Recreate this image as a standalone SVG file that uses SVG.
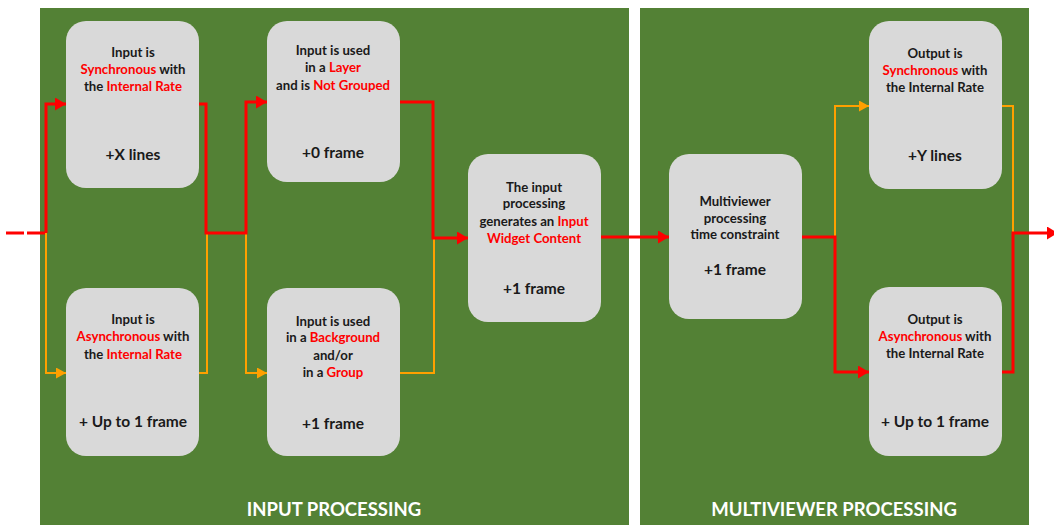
<svg xmlns="http://www.w3.org/2000/svg" width="1054" height="525" viewBox="0 0 1054 525">
<style>
.panel{fill:#538135}
.box{fill:#D9D9D9}
.t{font-family:Lato,"Open Sans",sans-serif;font-weight:bold;font-size:13.2px;fill:#1a1a1a;text-anchor:middle}
.big{font-size:15.5px}
.r{fill:#FF0000}
.title{font-family:Lato,"Open Sans",sans-serif;font-weight:bold;font-size:18.5px;fill:#FFFFFF;text-anchor:middle}
.red{stroke:#FF0000;stroke-width:3;fill:none}
.org{stroke:#FFA000;stroke-width:2;fill:none}
</style>
<defs>
<marker id="ar" markerUnits="userSpaceOnUse" markerWidth="12" markerHeight="13" refX="11" refY="6.5" orient="auto"><path d="M0,0 L11,6.5 L0,13 Z" fill="#FF0000"/></marker>
<marker id="ao" markerUnits="userSpaceOnUse" markerWidth="11" markerHeight="11" refX="10" refY="5.5" orient="auto"><path d="M0,0 L10,5.5 L0,11 Z" fill="#FFA000"/></marker>
</defs>
<rect width="1054" height="525" fill="#FFFFFF"/>
<g id="panel-input">
<rect class="panel" x="40" y="8" width="589" height="517"/>
<text class="title" x="334" y="516">INPUT PROCESSING</text>
</g>
<g id="panel-multiviewer">
<rect class="panel" x="640" y="8" width="389" height="517"/>
<text class="title" x="834" y="516">MULTIVIEWER PROCESSING</text>
</g>
<g id="connectors">
<path class="red" d="M6,233 H24 M27,233 H46"/>
<path class="org" d="M46,233 V373 H66" marker-end="url(#ao)"/>
<path class="red" d="M46,233 V104 H66" marker-end="url(#ar)"/>
<path class="org" d="M199,373 H207 V233"/>
<path class="org" d="M246,233 V373 H267" marker-end="url(#ao)"/>
<path class="red" d="M199,104 H206 V233 H246 V102 H267" marker-end="url(#ar)"/>
<path class="org" d="M400,373 H434 V238"/>
<path class="red" d="M400,102 H433 V238 H468" marker-end="url(#ar)"/>
<path class="red" d="M601,237 H669" marker-end="url(#ar)"/>
<path class="org" d="M835,237 V106 H869" marker-end="url(#ao)"/>
<path class="red" d="M802,237 H835 V372 H869" marker-end="url(#ar)"/>
<path class="org" d="M1002,106 H1013 V233"/>
<path class="red" d="M1002,372 H1013 V233 H1058" marker-end="url(#ar)"/>
</g>
<g id="node-input-sync">
<rect class="box" x="66" y="21" width="133" height="167" rx="20"/>
<text class="t" x="133" y="57">Input is</text>
<text class="t" x="133" y="74"><tspan class="r">Synchronous</tspan> with</text>
<text class="t" x="133" y="91">the <tspan class="r">Internal Rate</tspan></text>
<text class="t big" x="133" y="160">+X lines</text>
</g>
<g id="node-input-async">
<rect class="box" x="66" y="288" width="133" height="168" rx="20"/>
<text class="t" x="133" y="324">Input is</text>
<text class="t" x="133" y="341"><tspan class="r">Asynchronous</tspan> with</text>
<text class="t" x="133" y="359">the <tspan class="r">Internal Rate</tspan></text>
<text class="t big" x="133" y="427">+ Up to 1 frame</text>
</g>
<g id="node-layer">
<rect class="box" x="267" y="21" width="133" height="161" rx="20"/>
<text class="t" x="333" y="55">Input is used</text>
<text class="t" x="333" y="72">in a <tspan class="r">Layer</tspan></text>
<text class="t" x="333" y="90">and is <tspan class="r">Not Grouped</tspan></text>
<text class="t big" x="333" y="158">+0 frame</text>
</g>
<g id="node-background">
<rect class="box" x="267" y="288" width="133" height="168" rx="20"/>
<text class="t" x="333" y="326">Input is used</text>
<text class="t" x="333" y="342">in a <tspan class="r">Background</tspan></text>
<text class="t" x="333" y="360">and/or</text>
<text class="t" x="333" y="377">in a <tspan class="r">Group</tspan></text>
<text class="t big" x="333" y="429">+1 frame</text>
</g>
<g id="node-input-processing">
<rect class="box" x="468" y="154" width="133" height="168" rx="20"/>
<text class="t" x="534" y="192">The input</text>
<text class="t" x="534" y="208">processing</text>
<text class="t" x="534" y="226">generates an <tspan class="r">Input</tspan></text>
<text class="t" x="534" y="243"><tspan class="r">Widget Content</tspan></text>
<text class="t big" x="534" y="294">+1 frame</text>
</g>
<g id="node-multiviewer">
<rect class="box" x="669" y="154" width="133" height="165" rx="20"/>
<text class="t" x="735" y="206">Multiviewer</text>
<text class="t" x="735" y="223">processing</text>
<text class="t" x="735" y="239">time constraint</text>
<text class="t big" x="735" y="275">+1 frame</text>
</g>
<g id="node-output-sync">
<rect class="box" x="869" y="21" width="133" height="168" rx="20"/>
<text class="t" x="935" y="58">Output is</text>
<text class="t" x="935" y="75"><tspan class="r">Synchronous</tspan> with</text>
<text class="t" x="935" y="92">the Internal Rate</text>
<text class="t big" x="935" y="161">+Y lines</text>
</g>
<g id="node-output-async">
<rect class="box" x="869" y="287" width="133" height="169" rx="20"/>
<text class="t" x="935" y="324">Output is</text>
<text class="t" x="935" y="341"><tspan class="r">Asynchronous</tspan> with</text>
<text class="t" x="935" y="358">the Internal Rate</text>
<text class="t big" x="935" y="427">+ Up to 1 frame</text>
</g>
</svg>
